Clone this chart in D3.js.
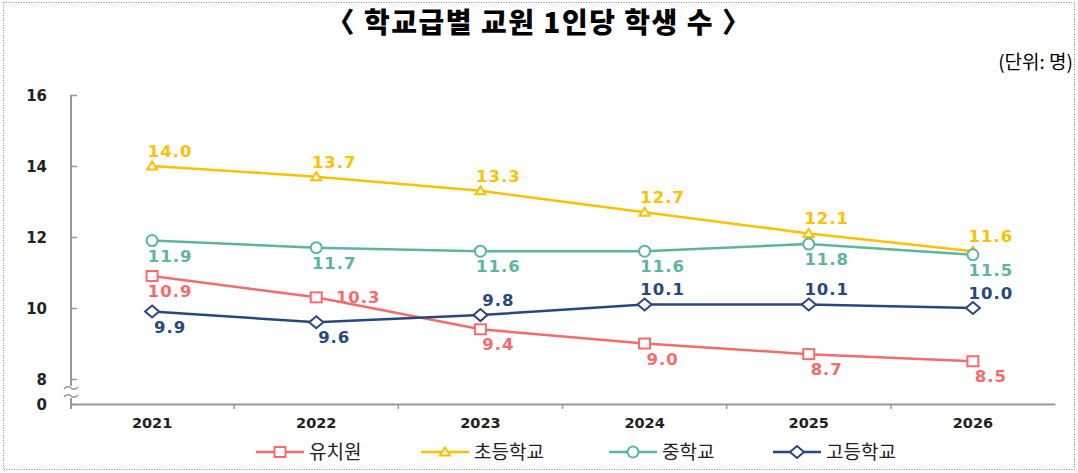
<!DOCTYPE html>
<html><head><meta charset="utf-8">
<script src="https://cdn.jsdelivr.net/npm/d3@7"></script>
<style>
html,body{margin:0;padding:0;background:#fff;}
svg{display:block;}
</style></head>
<body>
<svg id="chart" width="1078" height="473"></svg>
<script>
const years = ["2021","2022","2023","2024","2025","2026"];
const kinder = [10.9, 10.3, 9.4, 9.0, 8.7, 8.5];
const elementary = [14.0, 13.7, 13.3, 12.7, 12.1, 11.6];
const middle = [11.9, 11.7, 11.6, 11.6, 11.8, 11.5];
const high = [9.9, 9.6, 9.8, 10.1, 10.1, 10.0];
const seriesNames = ["유치원", "초등학교", "중학교", "고등학교"];
const yTicks = [0, 8, 10, 12, 14, 16];

const series = [
  {name: seriesNames[0], values: kinder, color: "#F86B6B", shape: "square", pos: ["below","right","below","below","below","below"]},
  {name: seriesNames[1], values: elementary, color: "#FFC000", shape: "triangle", pos: ["above","above","above","above","above","above"]},
  {name: seriesNames[2], values: middle, color: "#5BB6A0", shape: "circle", pos: ["below","below","below","below","below","below"]},
  {name: seriesNames[3], values: high, color: "#27487F", shape: "diamond", pos: ["below","below","above","above","above","above"]}
];

const svg = d3.select("#chart");
const W = 1078, H = 473;

// dotted frame
svg.append("rect").attr("x", 3.5).attr("y", 2.5).attr("width", W - 7).attr("height", H - 6)
  .attr("fill", "none").attr("stroke", "#888").attr("stroke-width", 1).attr("stroke-dasharray", "1,1.5");

// title
svg.append("text").attr("x", 539).attr("y", 33).attr("text-anchor", "middle")
  .attr("font-family", "'Noto Sans CJK KR', sans-serif").attr("font-weight", 900)
  .attr("font-size", 28).attr("letter-spacing", 1.5).attr("fill", "#000")
  .text("〈 학교급별 교원 1인당 학생 수 〉");

svg.append("text").attr("x", 1073).attr("y", 69).attr("text-anchor", "end")
  .attr("font-family", "'Noto Sans CJK KR', sans-serif").attr("font-size", 19).attr("fill", "#000")
  .text("(단위: 명)");

const x = d3.scaleBand().domain(years).range([70, 1055]);
const y = d3.scaleLinear().domain([0, 8, 16]).range([404, 379, 95]);
const cx = d => x(d) + x.bandwidth() / 2;

// y axis
const yAxis = svg.append("g").attr("transform", "translate(71,0)")
  .call(d3.axisRight(y).tickValues(yTicks).tickSize(6).tickFormat(""));
yAxis.select(".domain").remove();
yAxis.selectAll(".tick line").attr("stroke", "#999").attr("stroke-width", 1.5);
// axis line with break
svg.append("line").attr("x1", 71).attr("x2", 71).attr("y1", y(16)).attr("y2", 386)
  .attr("stroke", "#999").attr("stroke-width", 2);
svg.append("line").attr("x1", 71).attr("x2", 71).attr("y1", 398).attr("y2", 409)
  .attr("stroke", "#999").attr("stroke-width", 2);
// break squiggles
[388, 396].forEach(yy => {
  svg.append("path").attr("d", `M64,${yy+1} q3,-4 7,-1 q3,3 7,-1`)
    .attr("fill", "none").attr("stroke", "#999").attr("stroke-width", 1.5);
});
svg.selectAll(".ylab").data(yTicks).enter().append("text")
  .attr("x", 47).attr("y", d => y(d) + 5.5).attr("text-anchor", "end")
  .attr("font-family", "'DejaVu Sans', sans-serif").attr("font-weight", "bold")
  .attr("font-size", 15).attr("fill", "#222").text(d => d);

// x axis
const xAxis = svg.append("g").attr("transform", `translate(0,${y(0)})`)
  .call(d3.axisBottom(x).tickSize(0).tickPadding(14));
xAxis.select(".domain").attr("stroke", "#999").attr("stroke-width", 2);
xAxis.selectAll(".tick text").attr("font-family", "'DejaVu Sans', sans-serif")
  .attr("font-weight", "bold").attr("font-size", 14.5).attr("fill", "#222");
// boundary ticks
const bounds = years.map(d => x(d)).slice(1);
svg.selectAll(".btick").data(bounds).enter().append("line")
  .attr("x1", d => d).attr("x2", d => d).attr("y1", y(0)).attr("y2", y(0) + 5)
  .attr("stroke", "#999").attr("stroke-width", 1.5);

function marker(g, shape, color) {
  if (shape === "square") {
    g.append("rect").attr("x", -5.5).attr("y", -5).attr("width", 11).attr("height", 10)
      .attr("fill", "#fff").attr("stroke", color).attr("stroke-width", 2);
  } else if (shape === "triangle") {
    g.append("path").attr("d", "M0,-4.5 L5,3.5 L-5,3.5 Z")
      .attr("fill", "#fff").attr("stroke", color).attr("stroke-width", 2);
  } else if (shape === "circle") {
    g.append("circle").attr("r", 5.5).attr("fill", "#fff").attr("stroke", color).attr("stroke-width", 2);
  } else {
    g.append("path").attr("d", "M0,-6 L7,0 L0,6 L-7,0 Z")
      .attr("fill", "#fff").attr("stroke", color).attr("stroke-width", 2);
  }
}

const line = d3.line().x((d, i) => cx(years[i])).y(d => y(d));

series.forEach(s => {
  svg.append("path").datum(s.values).attr("d", line)
    .attr("fill", "none").attr("stroke", s.color).attr("stroke-width", 2.5);
});
series.forEach(s => {
  s.values.forEach((v, i) => {
    const g = svg.append("g").attr("transform", `translate(${cx(years[i])},${y(v)})`);
    marker(g, s.shape, s.color);
  });
});
series.forEach(s => {
  s.values.forEach((v, i) => {
    const p = s.pos[i];
    let dx = 18, dy = 0;
    if (p === "above") dy = -15;
    else if (p === "below") dy = 15;
    else { dx = 42; dy = 0; }
    svg.append("text").attr("x", cx(years[i]) + dx).attr("y", y(v) + dy + 6)
      .attr("text-anchor", "middle")
      .attr("font-family", "'DejaVu Sans', sans-serif").attr("font-weight", "bold")
      .attr("font-size", 16.5).attr("letter-spacing", 1).attr("fill", s.color)
      .text(v.toFixed(1));
  });
});

// legend
const legendX = [256, 421, 609, 773];
series.forEach((s, i) => {
  const lx = legendX[i], ly = 452;
  svg.append("line").attr("x1", lx).attr("x2", lx + 48).attr("y1", ly).attr("y2", ly)
    .attr("stroke", s.color).attr("stroke-width", 2.5);
  const g = svg.append("g").attr("transform", `translate(${lx + 24},${ly})`);
  marker(g, s.shape, s.color);
  svg.append("text").attr("x", lx + 53).attr("y", ly + 7)
    .attr("font-family", "'Noto Sans CJK KR', sans-serif").attr("font-size", 19)
    .attr("fill", "#222").text(s.name);
});
</script>
</body></html>
